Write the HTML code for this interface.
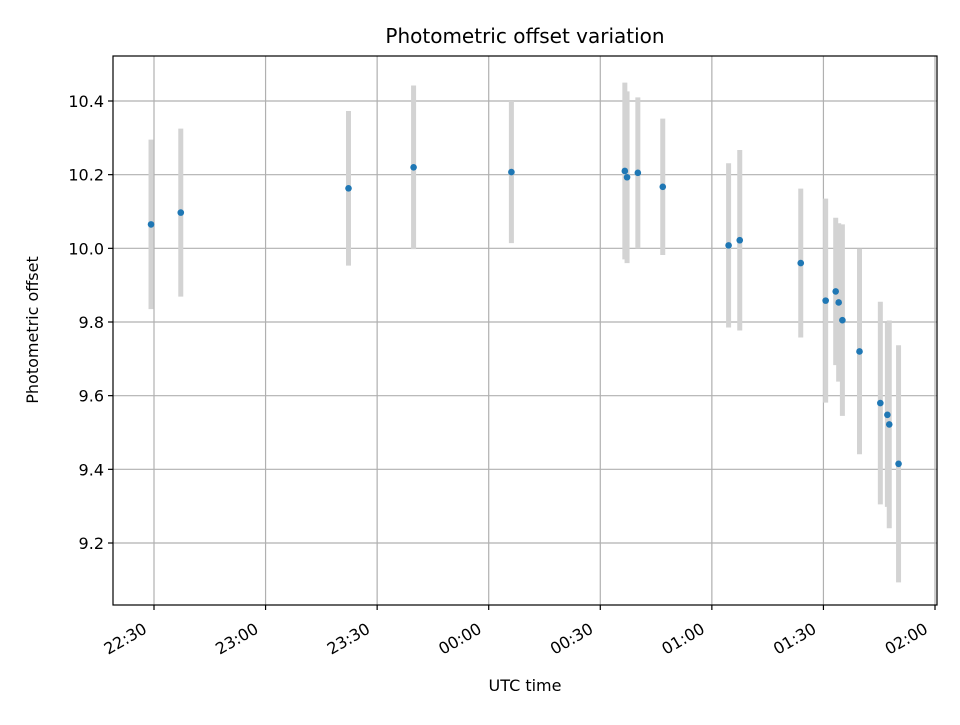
<!DOCTYPE html>
<html><head><meta charset="utf-8"><style>
body{margin:0;background:#fff;}
svg text{font-family:"DejaVu Sans","Liberation Sans",sans-serif;}
</style></head><body>
<svg id="chart" width="960" height="720" xmlns="http://www.w3.org/2000/svg">
<rect width="960" height="720" fill="#fff"/>
<text x="525" y="43" font-size="20" text-anchor="middle" fill="#000">Photometric offset variation</text>
<g id="grid"></g>
<g id="bars"></g>
<g id="pts"></g>
<rect x="113" y="56" width="824" height="549" fill="none" stroke="#000" stroke-width="1.2"/>
<g id="ticks"></g>
<text x="525" y="691" font-size="16" text-anchor="middle">UTC time</text>
<text x="38" y="330" font-size="16" text-anchor="middle" transform="rotate(-90 38 330)">Photometric offset</text>
</svg>
<script>
// minutes after 22:30 UTC
const times=[-0.8,7.2,52.3,69.8,96.1,126.6,127.2,130.1,136.8,154.5,157.5,173.9,180.6,183.3,184.1,185.1,189.7,195.3,197.2,197.7,200.2];
const offsets=[10.065,10.097,10.163,10.22,10.207,10.21,10.193,10.205,10.167,10.008,10.022,9.96,9.858,9.883,9.853,9.805,9.72,9.58,9.548,9.522,9.415];
const errors=[0.23,0.228,0.21,0.222,0.193,0.24,0.233,0.205,0.185,0.223,0.245,0.202,0.277,0.2,0.215,0.26,0.279,0.275,0.25,0.282,0.322];
const yTicks=[9.2,9.4,9.6,9.8,10.0,10.2,10.4];
const xTickMinutes=[0,30,60,90,120,150,180,210];
const xTickLabels=["22:30","23:00","23:30","00:00","00:30","01:00","01:30","02:00"];
const NS="http://www.w3.org/2000/svg";
const L=113,R=937,T=56,B=605;
function xs(m){return 154+m*(935-154)/210;}
function ys(v){return 101+(10.4-v)/1.2*(543-101);}
function mk(tag,attrs,parent){const e=document.createElementNS(NS,tag);for(const k in attrs)e.setAttribute(k,attrs[k]);document.getElementById(parent).appendChild(e);return e;}
yTicks.forEach((v,i)=>{const y=ys(v);
 let g=mk('line',{x1:L,x2:R,y1:y,y2:y,stroke:'#b0b0b0','stroke-width':1.2},'grid');
 
 
 let t=mk('line',{x1:L-5,x2:L,y1:y,y2:y,stroke:'#000','stroke-width':1.2},'ticks');
 
 
 let lb=mk('text',{x:L-9,y:y+6,'font-size':16,'text-anchor':'end'},'ticks');lb.textContent=v.toFixed(1);
 
 
});
xTickMinutes.forEach((m,i)=>{const x=xs(m);
 let g=mk('line',{x1:x,x2:x,y1:T,y2:B,stroke:'#b0b0b0','stroke-width':1.2},'grid');
 
 
 let t=mk('line',{x1:x,x2:x,y1:B,y2:B+5,stroke:'#000','stroke-width':1.2},'ticks');
 
 
 const ax=x-6, ay=B+27;
 let lb=mk('text',{x:ax,y:ay,'font-size':16,'text-anchor':'end',transform:`rotate(-30 ${ax} ${ay})`},'ticks');lb.textContent=xTickLabels[i];
 
 
});
times.forEach((m,i)=>{const x=xs(m);
 let b=mk('line',{x1:x,x2:x,y1:ys(offsets[i]+errors[i]),y2:ys(offsets[i]-errors[i]),stroke:'#d3d3d3','stroke-width':5},'bars');
 
 
 let c=mk('circle',{cx:x,cy:ys(offsets[i]),r:3.3,fill:'#1f77b4'},'pts');
 
 
});
</script>
</body></html>
